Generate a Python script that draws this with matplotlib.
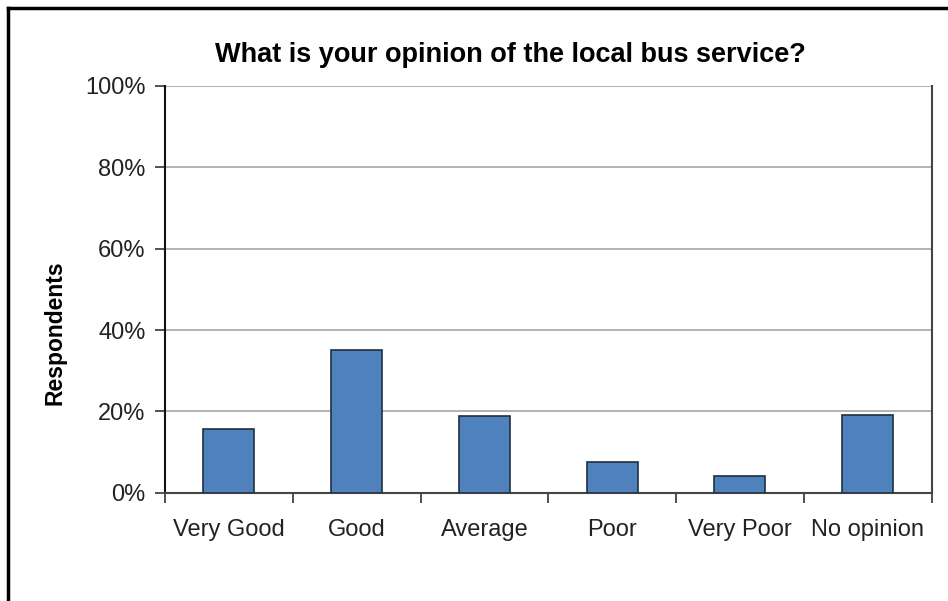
import matplotlib.pyplot as plt
from matplotlib.lines import Line2D
from matplotlib.ticker import FuncFormatter

categories = ["Very Good", "Good", "Average", "Poor", "Very Poor", "No opinion"]
shares = [15.7, 35.0, 18.9, 7.5, 4.2, 19.2]

plt.rcParams['font.family'] = ['Liberation Sans Narrow', 'Liberation Sans', 'DejaVu Sans']

fig = plt.figure(figsize=(9.48, 6.01), dpi=100)
ax = fig.add_axes([165 / 948, 1 - 492.7 / 601, (931.5 - 165) / 948, (492.7 - 86) / 601])

x = list(range(len(categories)))
ax.bar(x, shares, width=0.4, color="#4f81bd", edgecolor="#1f2f40", linewidth=1.2, zorder=3)

ax.set_xlim(-0.5, len(categories) - 0.5)
ax.set_ylim(0, 100)
ax.set_yticks([0, 20, 40, 60, 80, 100])
ax.yaxis.set_major_formatter(FuncFormatter(lambda v, p: f"{v:.0f}%"))
ax.grid(axis="y", color="#a6a6a6", linewidth=1.2, zorder=0)

# category labels centred under bars, tick marks at boundaries
ax.set_xticks(x)
ax.set_xticklabels(categories)
ax.set_xticks([i - 0.5 for i in range(len(categories) + 1)], minor=True)
ax.tick_params(axis="x", which="major", length=0, pad=19, labelsize=17, labelcolor="#222222")
ax.tick_params(axis="x", which="minor", length=7, width=1.2, direction="out", color="#333333")
ax.tick_params(axis="y", length=7, width=1.2, direction="out", pad=7, labelsize=17,
               labelcolor="#222222", color="#333333")

ax.spines["top"].set_visible(False)
ax.spines["left"].set_color("#111111")
ax.spines["left"].set_linewidth(1.5)
ax.spines["bottom"].set_color("#444444")
ax.spines["bottom"].set_linewidth(1.5)
ax.spines["right"].set_color("#444444")
ax.spines["right"].set_linewidth(1.5)

fig.text(510 / 948, 1 - 55 / 601, "What is your opinion of the local bus service?",
         ha="center", va="center", fontsize=19.5, fontweight="bold")
fig.text(55 / 948, 1 - 333 / 601, "Respondents", rotation=90, ha="center", va="center",
         fontsize=16.5, fontweight="bold")

# outer frame (top and left edges)
fig.add_artist(Line2D([8 / 948, 1], [1 - 8 / 601, 1 - 8 / 601], color="black", linewidth=2.5,
                      transform=fig.transFigure))
fig.add_artist(Line2D([8 / 948, 8 / 948], [0, 1 - 8 / 601], color="black", linewidth=2.5,
                      transform=fig.transFigure))

fig.savefig("out.png", dpi=100)
